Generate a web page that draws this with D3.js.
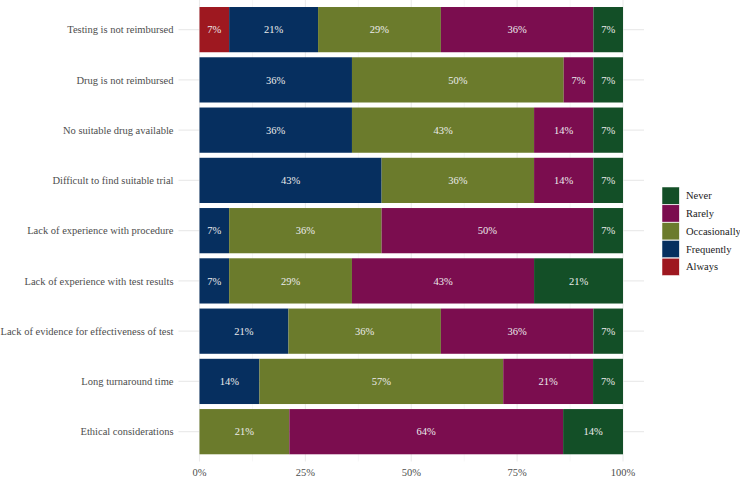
<!DOCTYPE html>
<html>
<head>
    <meta charset="utf-8">
    <title>Barriers</title>
    <script src="https://cdn.jsdelivr.net/npm/d3@7"></script>
    <style>
        html, body { margin: 0; padding: 0; background: white; }
    </style>
</head>
<body>
<div id="chart"></div>
<script>
    // categories, top to bottom
    var categories = [
        "Testing is not reimbursed",
        "Drug is not reimbursed",
        "No suitable drug available",
        "Difficult to find suitable trial",
        "Lack of experience with procedure",
        "Lack of experience with test results",
        "Lack of evidence for effectiveness of test",
        "Long turnaround time",
        "Ethical considerations"
    ];
    // stack order, left to right
    var levels = ["Always", "Frequently", "Occasionally", "Rarely", "Never"];

    // percentages per level, same order as categories
    var always       = [7, 0, 0, 0, 0, 0, 0, 0, 0];
    var frequently   = [21, 36, 36, 43, 7, 7, 21, 14, 0];
    var occasionally = [29, 50, 43, 36, 36, 29, 36, 57, 21];
    var rarely       = [36, 7, 14, 14, 50, 43, 36, 21, 64];
    var never        = [7, 7, 7, 7, 7, 21, 7, 7, 14];

    var xTicks = [0, 0.25, 0.5, 0.75, 1];
    var xTickLabels = ["0%", "25%", "50%", "75%", "100%"];

    var colors = ["#9e1820", "#062f5f", "#6b7b2c", "#7b0d4f", "#134f27"];

    var rows = categories.map(function(c, i) {
        return { cat: c, Always: always[i], Frequently: frequently[i],
                 Occasionally: occasionally[i], Rarely: rarely[i], Never: never[i] };
    });

    var width = 740, height = 479;
    var panel = { left: 178.5, right: 644, top: 0, bottom: 461.5 };
    var serif = "'Liberation Serif'";
    var fs = "10.5px";

    var svg = d3.select("#chart").append("svg")
        .attr("width", width)
        .attr("height", height);

    var x = d3.scaleLinear()
        .domain([0, 1])
        .range([199.5, 623]);

    var y = d3.scaleBand()
        .domain(categories)
        .range([4.5, 456.8])
        .paddingInner(0.1)
        .paddingOuter(0.05);

    var color = d3.scaleOrdinal().domain(levels).range(colors);

    // grid
    var grid = svg.append("g");
    var minor = [0.125, 0.375, 0.625, 0.875];
    grid.selectAll(".minor").data(minor).enter().append("line")
        .attr("x1", d => x(d)).attr("x2", d => x(d))
        .attr("y1", panel.top).attr("y2", panel.bottom)
        .attr("stroke", "#f2f2f2").attr("stroke-width", 0.6);
    grid.selectAll(".major").data(xTicks).enter().append("line")
        .attr("x1", d => x(d)).attr("x2", d => x(d))
        .attr("y1", panel.top).attr("y2", panel.bottom)
        .attr("stroke", "#ebebeb").attr("stroke-width", 1.1);
    grid.selectAll(".hline").data(categories).enter().append("line")
        .attr("x1", panel.left).attr("x2", panel.right)
        .attr("y1", d => y(d) + y.bandwidth() / 2).attr("y2", d => y(d) + y.bandwidth() / 2)
        .attr("stroke", "#ebebeb").attr("stroke-width", 1.1);

    var stack = d3.stack().keys(levels).offset(d3.stackOffsetExpand);
    var series = stack(rows);

    var layers = svg.append("g").selectAll("g")
        .data(series)
        .enter().append("g")
        .attr("fill", d => color(d.key));

    layers.selectAll("rect")
        .data(d => d.map(s => ({ s: s, key: d.key })))
        .enter().append("rect")
        .attr("x", d => x(d.s[0]))
        .attr("width", d => x(d.s[1]) - x(d.s[0]))
        .attr("y", d => y(d.s.data.cat))
        .attr("height", y.bandwidth());

    layers.selectAll("text")
        .data(d => d.map(s => ({ s: s, key: d.key })).filter(e => e.s.data[e.key] > 0))
        .enter().append("text")
        .attr("x", d => (x(d.s[0]) + x(d.s[1])) / 2)
        .attr("y", d => y(d.s.data.cat) + y.bandwidth() / 2)
        .attr("dy", "0.35em")
        .attr("text-anchor", "middle")
        .attr("fill", "#ececec")
        .style("font-family", serif)
        .style("font-size", fs)
        .text(d => d.s.data[d.key] + "%");

    // y axis labels
    svg.append("g").selectAll("text")
        .data(categories).enter().append("text")
        .attr("x", 173.5)
        .attr("y", d => y(d) + y.bandwidth() / 2)
        .attr("dy", "0.35em")
        .attr("text-anchor", "end")
        .attr("fill", "#4d4d4d")
        .style("font-family", serif)
        .style("font-size", fs)
        .text(d => d);

    // x axis labels
    svg.append("g").selectAll("text")
        .data(xTicks).enter().append("text")
        .attr("x", d => x(d))
        .attr("y", 472.5)
        .attr("dy", "0.35em")
        .attr("text-anchor", "middle")
        .attr("fill", "#4d4d4d")
        .style("font-family", serif)
        .style("font-size", fs)
        .text((d, i) => xTickLabels[i]);

    // legend
    var legendLevels = levels.slice().reverse();
    var legend = svg.append("g").attr("transform", "translate(662,187)");
    var item = legend.selectAll("g").data(legendLevels).enter().append("g")
        .attr("transform", (d, i) => "translate(0," + (i * 17.8) + ")");
    item.append("rect")
        .attr("width", 17.3).attr("height", 17.3)
        .attr("fill", d => color(d))
        .attr("stroke", "white").attr("stroke-width", 0.5);
    item.append("text")
        .attr("x", 24).attr("y", 8.6)
        .attr("dy", "0.35em")
        .attr("fill", "#1a1a1a")
        .style("font-family", serif)
        .style("font-size", fs)
        .text(d => d);
</script>
</body>
</html>
